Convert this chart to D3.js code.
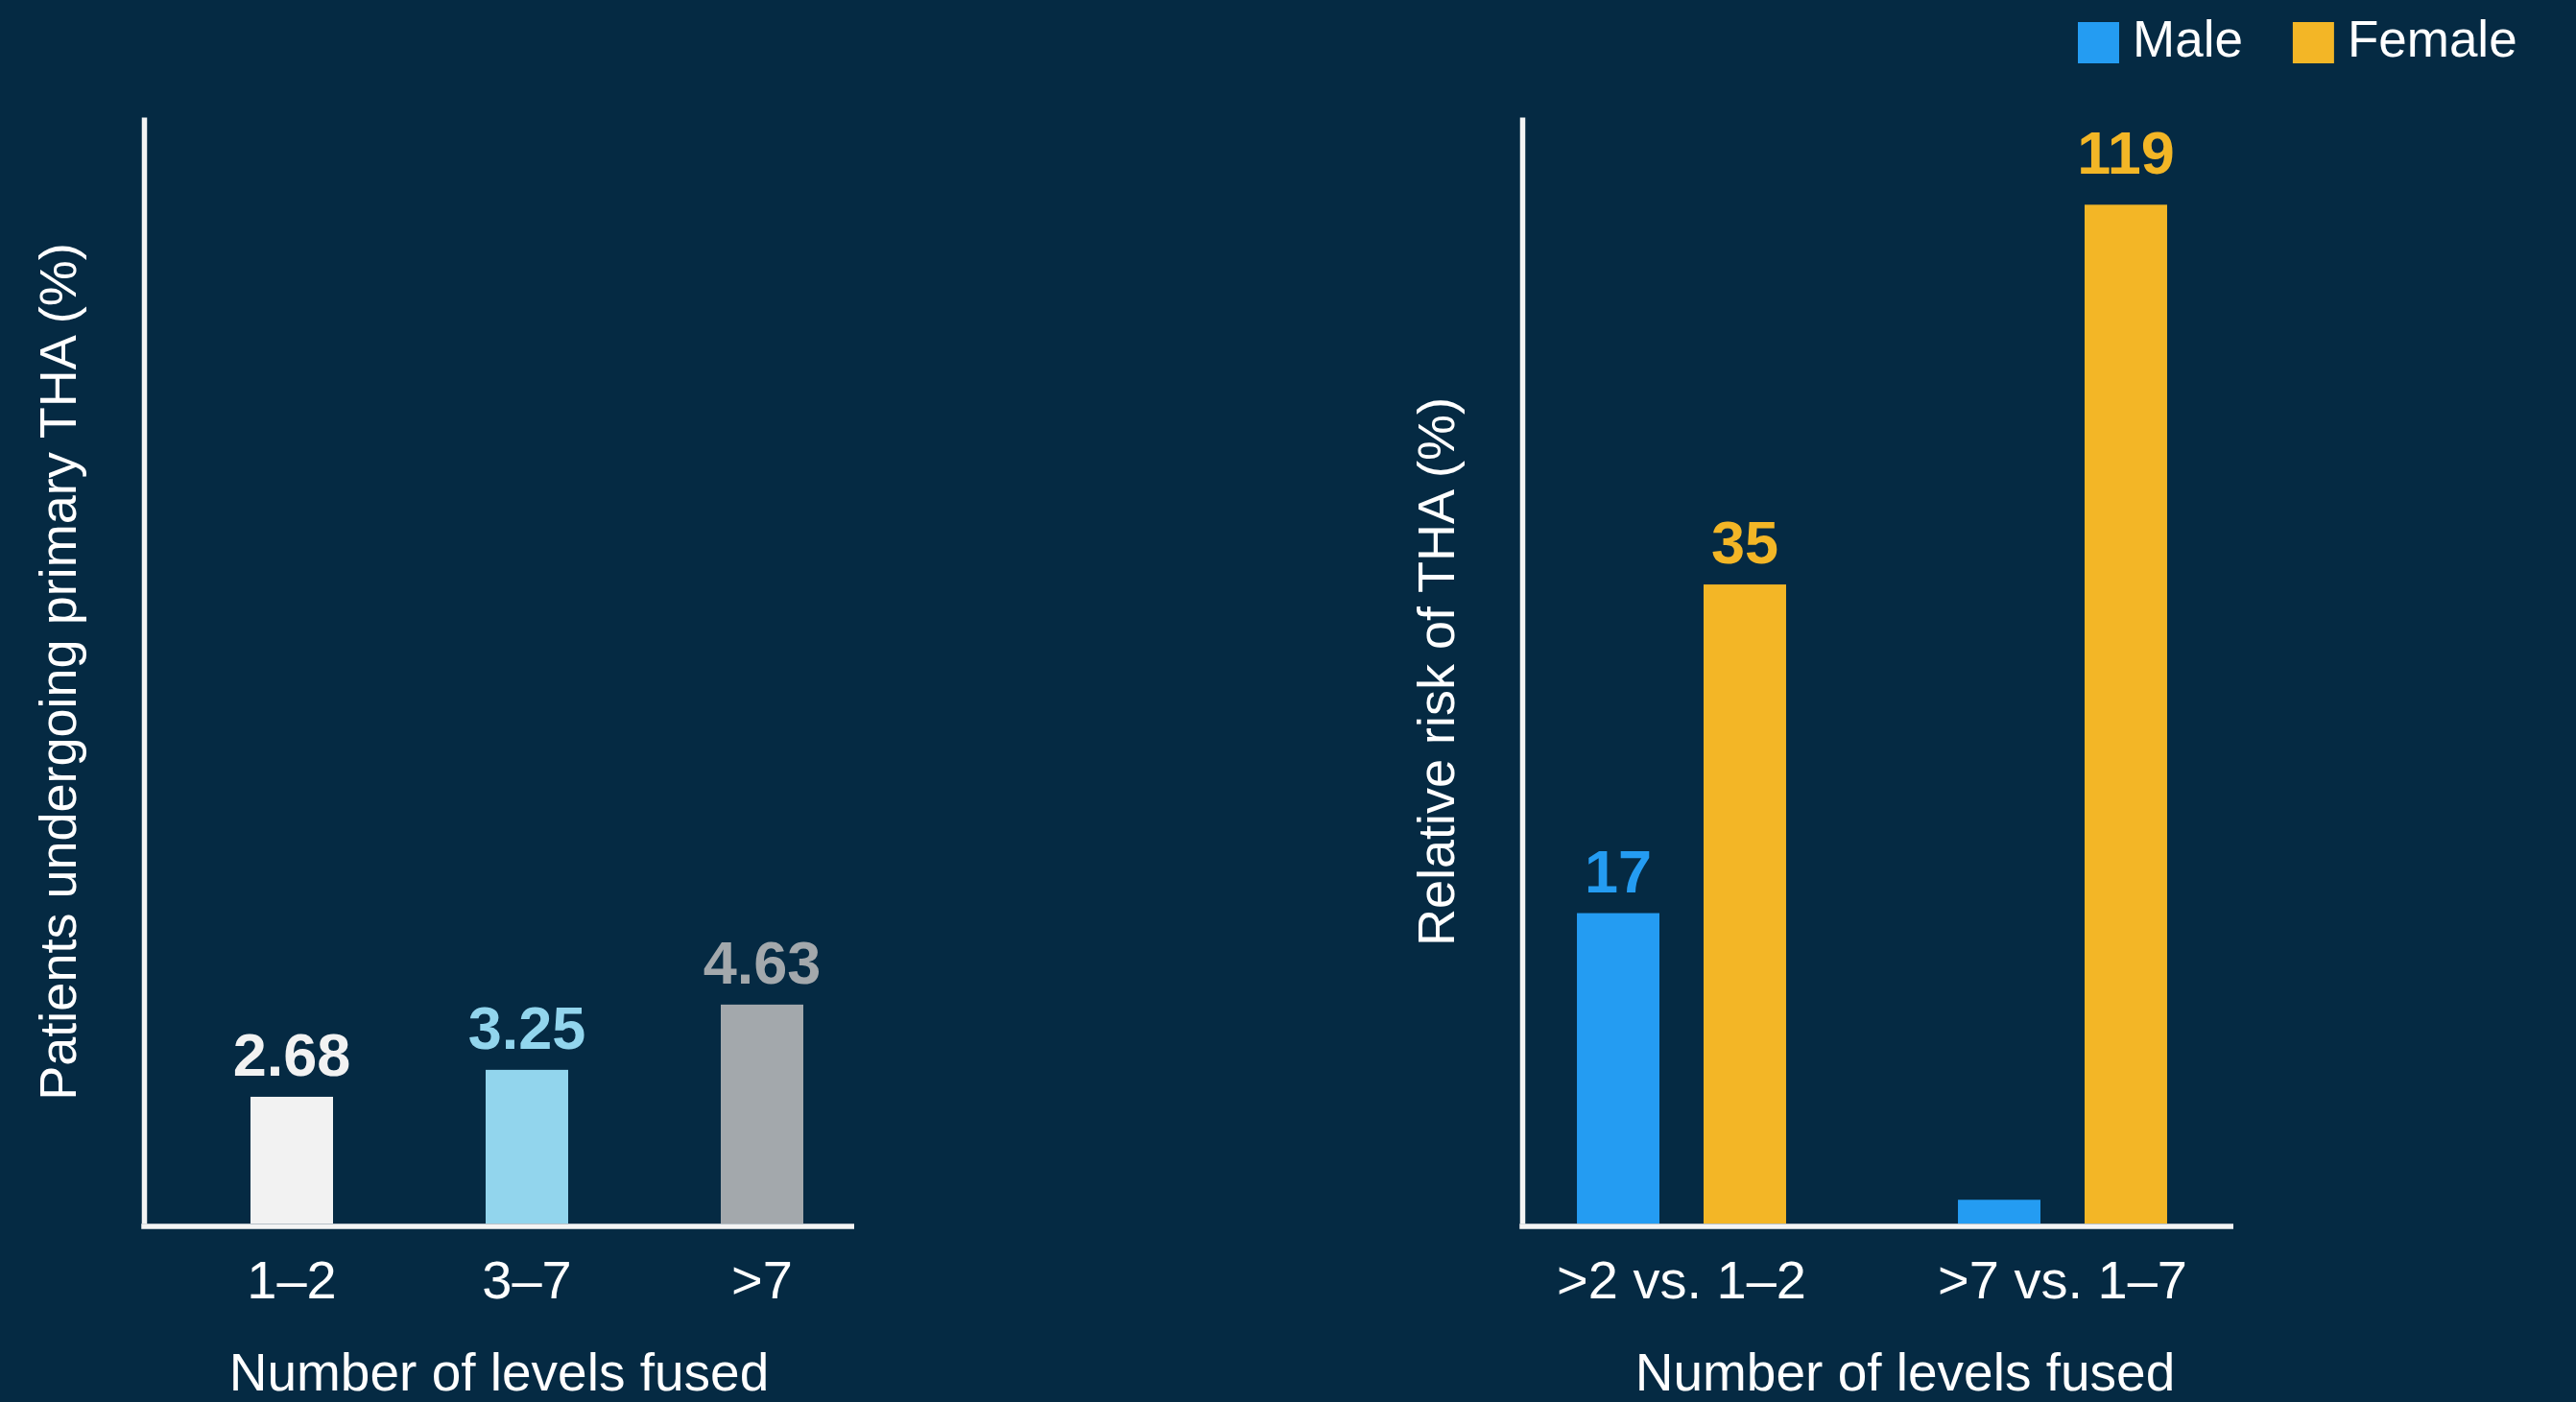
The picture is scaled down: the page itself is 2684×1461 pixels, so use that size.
<!DOCTYPE html>
<html>
<head>
<meta charset="utf-8">
<script src="https://cdn.jsdelivr.net/npm/d3@7"></script>
<style>
  html, body { margin: 0; padding: 0; background: #052a43; }
  svg text { font-family: "Liberation Sans", Arial, sans-serif; }
</style>
</head>
<body>
<div id="chart"></div>
<script>
// data
const leftCategories = ["1–2", "3–7", ">7"];
const leftValues = [2.68, 3.25, 4.63];
const leftColors = ["#f2f2f2", "#92d5ed", "#a3a8ac"];

const rightCategories = [">2 vs. 1–2", ">7 vs. 1–7"];
const seriesNames = ["Male", "Female"];
const maleValues = [17, 1.3];
const femaleValues = [35, 119];
const maleLabels = ["17", ""];
const femaleLabels = ["35", "119"];
const seriesColors = ["#249cf2", "#f3b626"];

const leftYTitle = "Patients undergoing primary THA (%)";
const rightYTitle = "Relative risk of THA (%)";
const xTitle = "Number of levels fused";

const width = 2684;
const height = 1461;
const plotTop = 122;
const plotBottom = 1275;
const axisY = 1278;
const axisColor = "#f4f4f4";
const textColor = "#ffffff";

const svg = d3
  .select("#chart")
  .append("svg")
  .attr("width", width)
  .attr("height", height);

svg.append("rect").attr("width", width).attr("height", height).attr("fill", "#052a43");

// ---------- left chart ----------
const xLeft = d3
  .scaleBand()
  .domain(leftCategories)
  .range([181.5, 916.5])
  .paddingInner(0.649)
  .paddingOuter(0.3245);

const yLeft = d3.scaleLinear().domain([0, 23.4]).range([plotBottom, plotTop]);

const leftData = leftCategories.map((c, i) => ({
  cat: c,
  value: leftValues[i],
  color: leftColors[i],
}));

svg
  .selectAll(".bar-left")
  .data(leftData)
  .enter()
  .append("rect")
  .attr("class", "bar-left")
  .attr("x", (d) => xLeft(d.cat))
  .attr("y", (d) => yLeft(d.value))
  .attr("width", xLeft.bandwidth())
  .attr("height", (d) => yLeft(0) - yLeft(d.value))
  .attr("fill", (d) => d.color);

svg
  .selectAll(".label-left")
  .data(leftData)
  .enter()
  .append("text")
  .attr("class", "label-left")
  .attr("x", (d) => xLeft(d.cat) + xLeft.bandwidth() / 2)
  .attr("y", (d) => yLeft(d.value) - 22)
  .attr("text-anchor", "middle")
  .attr("font-size", 63)
  .attr("font-weight", "bold")
  .attr("fill", (d) => d.color)
  .text((d) => d.value.toFixed(2));

// axes
svg
  .append("g")
  .attr("transform", `translate(150,0)`)
  .call(d3.axisLeft(yLeft).ticks(0).tickSizeOuter(0))
  .call((g) => g.select(".domain").attr("stroke", axisColor).attr("stroke-width", 5.5));

svg
  .append("line")
  .attr("x1", 147.25)
  .attr("x2", 890)
  .attr("y1", axisY)
  .attr("y2", axisY)
  .attr("stroke", axisColor)
  .attr("stroke-width", 5.5);

svg
  .append("g")
  .attr("transform", `translate(0,${axisY})`)
  .call(d3.axisBottom(xLeft).tickSize(0))
  .call((g) => g.select(".domain").remove())
  .call((g) =>
    g
      .selectAll("text")
      .attr("y", 75)
      .attr("dy", 0)
      .attr("font-size", 56)
      .attr("font-family", "Liberation Sans, Arial, sans-serif")
      .attr("fill", textColor)
  );

// titles
svg
  .append("text")
  .attr("transform", "translate(79,700) rotate(-90)")
  .attr("text-anchor", "middle")
  .attr("font-size", 54)
  .attr("fill", textColor)
  .text(leftYTitle);

svg
  .append("text")
  .attr("x", 520)
  .attr("y", 1449)
  .attr("text-anchor", "middle")
  .attr("font-size", 55)
  .attr("fill", textColor)
  .text(xTitle);

// ---------- right chart ----------
const xRight = d3
  .scaleBand()
  .domain(rightCategories)
  .range([1553.5, 2347.5])
  .paddingInner(0.451)
  .paddingOuter(0.2255);

const xSub = d3
  .scaleBand()
  .domain(seriesNames)
  .range([0, xRight.bandwidth()])
  .paddingInner(0.3485);

// bars not drawn to one scale in the source: tallest bar truncated
const rightCap = 55.8;
const yRight = d3.scaleLinear().domain([0, 60.6]).range([plotBottom, plotTop]);

const rightData = [];
rightCategories.forEach((c, i) => {
  rightData.push({ cat: c, series: "Male", value: maleValues[i], label: maleLabels[i], color: seriesColors[0] });
  rightData.push({ cat: c, series: "Female", value: femaleValues[i], label: femaleLabels[i], color: seriesColors[1] });
});

const barTop = (d) => yRight(Math.min(d.value, rightCap));

svg
  .selectAll(".bar-right")
  .data(rightData)
  .enter()
  .append("rect")
  .attr("class", "bar-right")
  .attr("x", (d) => xRight(d.cat) + xSub(d.series))
  .attr("y", barTop)
  .attr("width", xSub.bandwidth())
  .attr("height", (d) => yRight(0) - barTop(d))
  .attr("fill", (d) => d.color);

svg
  .selectAll(".label-right")
  .data(rightData.filter((d) => d.label))
  .enter()
  .append("text")
  .attr("class", "label-right")
  .attr("x", (d) => xRight(d.cat) + xSub(d.series) + xSub.bandwidth() / 2)
  .attr("y", (d) => barTop(d) - (d.value > rightCap ? 32 : 22))
  .attr("text-anchor", "middle")
  .attr("font-size", 63)
  .attr("font-weight", "bold")
  .attr("fill", (d) => d.color)
  .text((d) => d.label);

svg
  .append("g")
  .attr("transform", `translate(1586,0)`)
  .call(d3.axisLeft(yRight).ticks(0).tickSizeOuter(0))
  .call((g) => g.select(".domain").attr("stroke", axisColor).attr("stroke-width", 5.5));

svg
  .append("line")
  .attr("x1", 1583.25)
  .attr("x2", 2327)
  .attr("y1", axisY)
  .attr("y2", axisY)
  .attr("stroke", axisColor)
  .attr("stroke-width", 5.5);

svg
  .append("g")
  .attr("transform", `translate(0,${axisY})`)
  .call(d3.axisBottom(xRight).tickSize(0))
  .call((g) => g.select(".domain").remove())
  .call((g) =>
    g
      .selectAll("text")
      .attr("y", 75)
      .attr("dy", 0)
      .attr("font-size", 56)
      .attr("font-family", "Liberation Sans, Arial, sans-serif")
      .attr("fill", textColor)
  );

svg
  .append("text")
  .attr("transform", "translate(1515,700) rotate(-90)")
  .attr("text-anchor", "middle")
  .attr("font-size", 54)
  .attr("fill", textColor)
  .text(rightYTitle);

svg
  .append("text")
  .attr("x", 1985)
  .attr("y", 1449)
  .attr("text-anchor", "middle")
  .attr("font-size", 55)
  .attr("fill", textColor)
  .text(xTitle);

// ---------- legend ----------
const legend = svg.append("g").attr("transform", "translate(2165,23)");
let lx = 0;
seriesNames.forEach((name, i) => {
  const item = legend.append("g").attr("transform", `translate(${lx},0)`);
  item.append("rect").attr("width", 43).attr("height", 43).attr("fill", seriesColors[i]);
  const t = item
    .append("text")
    .attr("x", 57)
    .attr("y", 36)
    .attr("font-size", 53)
    .attr("fill", textColor)
    .text(name);
  lx += 57 + t.node().getComputedTextLength() + 52;
});
</script>
</body>
</html>
